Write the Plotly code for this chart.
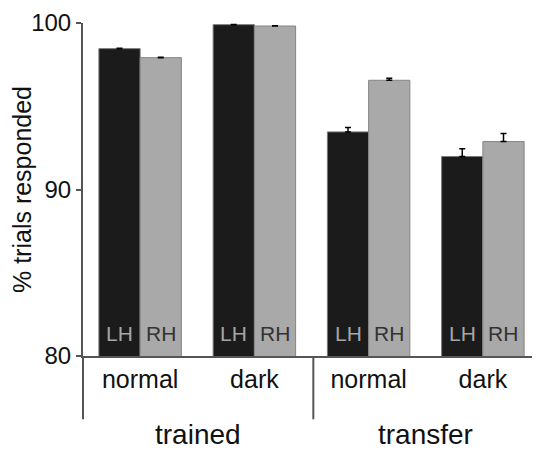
import plotly.graph_objects as go

conditions = ["normal", "dark", "normal", "dark"]
groups = ["trained", "transfer"]
lh_values = [98.46, 99.9, 93.46, 91.98]
lh_errors = [0.03, 0.01, 0.26, 0.46]
rh_values = [97.92, 99.82, 96.56, 92.88]
rh_errors = [0.03, 0.02, 0.12, 0.48]
y_ticks = [80, 90, 100]

xpos = list(range(len(conditions)))
font = "Liberation Sans, Arial, Helvetica, sans-serif"

fig = go.Figure()
fig.add_trace(go.Bar(
    x=xpos, y=lh_values, name="LH", marker=dict(color="#1b1b1b", line=dict(color="#7a7a7a", width=1)),
    error_y=dict(type="data", symmetric=False, array=lh_errors, arrayminus=[0]*4,
                 color="#000000", thickness=1.5, width=3),
))
fig.add_trace(go.Bar(
    x=xpos, y=rh_values, name="RH", marker=dict(color="#a9a9a9", line=dict(color="#858585", width=1)),
    error_y=dict(type="data", symmetric=False, array=rh_errors, arrayminus=[0]*4,
                 color="#000000", thickness=1.5, width=3),
))

annotations = []
for i in xpos:
    annotations.append(dict(x=i - 0.18, y=80, xref="x", yref="y", text="LH", showarrow=False,
                            yshift=23, font=dict(family=font, size=21, color="#a6a6a6")))
    annotations.append(dict(x=i + 0.18, y=80, xref="x", yref="y", text="RH", showarrow=False,
                            yshift=23, font=dict(family=font, size=21, color="#333333")))
annotations.append(dict(x=0.252, y=-0.236, xref="paper", yref="paper", text=groups[0], showarrow=False,
                        xanchor="center", yanchor="middle",
                        font=dict(family=font, size=28, color="#111111")))
annotations.append(dict(x=0.75, y=-0.236, xref="paper", yref="paper", text=groups[1], showarrow=False,
                        xanchor="center", yanchor="middle",
                        font=dict(family=font, size=28, color="#111111")))

fig.update_layout(
    width=532, height=442,
    margin=dict(l=72, r=0, t=15, b=94),
    paper_bgcolor="white", plot_bgcolor="white",
    barmode="group", bargap=0.278, bargroupgap=0,
    showlegend=False,
    annotations=annotations,
    shapes=[
        dict(type="line", xref="paper", yref="paper", x0=0, x1=0, y0=0, y1=-0.19,
             line=dict(color="#555555", width=2)),
        dict(type="line", xref="paper", yref="paper", x0=0.504, x1=0.504, y0=0, y1=-0.19,
             line=dict(color="#555555", width=2)),
    ],
    xaxis=dict(range=[-0.5, 3.5], tickmode="array", tickvals=xpos, ticktext=conditions,
               showgrid=False, zeroline=False, showline=True, linecolor="#555555", linewidth=2,
               ticks="", tickfont=dict(family=font, size=25, color="#111111")),
    yaxis=dict(range=[80, 100], tickmode="array", tickvals=y_ticks, showgrid=False, zeroline=False,
               showline=True, linecolor="#555555", linewidth=2, ticks="outside", ticklen=5,
               tickcolor="#555555", tickwidth=2,
               tickfont=dict(family=font, size=24, color="#111111"),
               title=dict(text="% trials responded", font=dict(family=font, size=25, color="#111111"),
                          standoff=6)),
)

fig.write_html("out.html")
